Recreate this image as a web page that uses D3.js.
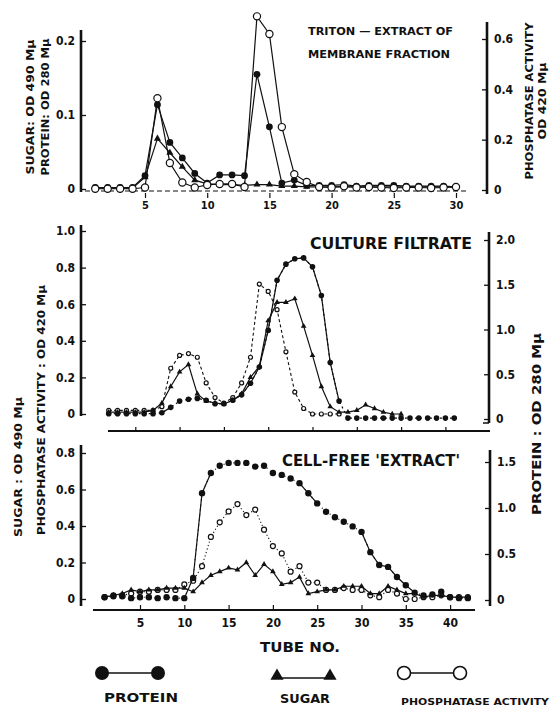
<!DOCTYPE html>
<html>
<head>
<meta charset="utf-8">
<script src="https://cdn.jsdelivr.net/npm/d3@7"></script>
<style>
  body { margin: 0; background: #fff; }
  text { font-family: 'DejaVu Sans Condensed', 'DejaVu Sans', sans-serif; font-weight: bold; fill: #111; }
</style>
</head>
<body>
<div id="graf"></div>
<script>
// ---- datos ----
// panel 1: triton extract of membrane fraction (tubos 1-30)
var tubos1 = [1,2,3,4,5,6,7,8,9,10,11,12,13,14,15,16,17,18,19,20,21,22,23,24,25,26,27,28,29,30]
var proteina1 = [0.002,0.002,0.002,0.002,0.018,0.114,0.063,0.042,0.021,0.008,0.019,0.019,0.018,0.155,0.084,0.008,0.012,0.005,0.005,0.005,0.006,0.004,0.005,0.005,0.005,0.004,0.004,0.004,0.004,0.003]
var azucar1 = [0.001,0.001,0.001,0.001,0.016,0.068,0.049,0.030,0.012,0.007,0.006,0.006,0.005,0.006,0.006,0.004,0.004,0.003,0.003,0.003,0.003,0.003,0.003,0.003,0.003,0.003,0.003,0.003,0.003,0.003]
var fosfatasa1 = [0.005,0.005,0.005,0.005,0.01,0.365,0.107,0.03,0.01,0.02,0.024,0.024,0.012,0.69,0.62,0.25,0.063,0.032,0.012,0.01,0.015,0.01,0.012,0.01,0.008,0.01,0.01,0.008,0.01,0.012]

// panel 2: culture filtrate (tubos 2-41)
var tubos2 = [2,3,4,5,6,7,8,9,10,11,12,13,14,15,16,17,18,19,20,21,22,23,24,25,26,27,28,29,30,31,32,33,34,35,36,37,38,39,40,41]
var proteina2 = [0.06,0.06,0.06,0.06,0.06,0.06,0.07,0.13,0.20,0.22,0.23,0.21,0.17,0.17,0.21,0.27,0.40,0.58,0.99,1.55,1.73,1.79,1.80,1.70,1.38,0.63,0.20,0.01,0.01,0.01,0.01,0.01,0.01,0.01,0.01,0.01,0.01,0.01,0.01,0.01]
var azucar2 = [0.01,0.01,0.01,0.01,0.01,0.02,0.06,0.15,0.23,0.27,0.11,0.07,0.06,0.055,0.075,0.11,0.20,0.26,0.51,0.61,0.61,0.63,0.48,0.32,0.15,0.04,0.01,0.01,0.02,0.05,0.03,0.01,0.0,0.0,null,null,null,null,null,null]
var fosfatasa2 = [0.02,0.02,0.02,0.02,0.02,0.02,0.04,0.25,0.32,0.33,0.31,0.17,0.09,0.06,0.09,0.17,0.31,0.71,0.67,0.57,0.34,0.12,0.03,0.0,0.0,0.0,0.0,null,null,null,null,null,null,null,null,null,null,null,null,null]

// panel 3: cell-free extract (tubos 1-42)
var tubos3 = [1,2,3,4,5,6,7,8,9,10,11,12,13,14,15,16,17,18,19,20,21,22,23,24,25,26,27,28,29,30,31,32,33,34,35,36,37,38,39,40,41,42]
var proteina3 = [0.03,0.04,0.04,0.02,0.03,0.03,0.02,0.03,0.02,0.02,0.24,1.16,1.38,1.46,1.49,1.49,1.49,1.45,1.46,1.38,1.36,1.32,1.27,1.16,1.05,0.96,0.90,0.85,0.80,0.74,0.52,0.38,0.36,0.25,0.16,0.08,0.05,0.06,0.09,0.03,0.02,0.02]
var azucar3 = [0.01,0.02,0.03,0.05,0.04,0.05,0.05,0.06,0.06,0.06,0.04,0.09,0.13,0.15,0.17,0.16,0.20,0.13,0.19,0.15,0.08,0.09,0.12,0.03,0.04,0.05,0.05,0.07,0.07,0.07,0.03,0.03,0.07,0.05,0.03,0.03,0.01,0.02,0.02,0.01,0.01,0.01]
var fosfatasa3 = [0.01,0.02,0.02,0.03,0.04,0.04,0.05,0.05,0.05,0.08,0.10,0.18,0.34,0.42,0.48,0.52,0.46,0.49,0.38,0.29,0.25,0.15,0.18,0.09,0.09,0.05,0.05,0.06,0.05,0.05,0.02,0.01,0.05,0.03,0.0,0.0,0.01,0.01,0.02,0.01,0.01,0.01]

// ticks
var ticksIzq1 = [0, 0.1, 0.2]
var ticksDer1 = [0, 0.2, 0.4, 0.6]
var ticksX1 = [5, 10, 15, 20, 25, 30]
var ticksIzq2 = [0, 0.2, 0.4, 0.6, 0.8, 1.0]
var ticksDer2 = [0, 0.5, 1.0, 1.5, 2.0]
var ticksX2 = [5, 10, 15, 20, 25, 30, 35, 40]
var ticksIzq3 = [0, 0.2, 0.4, 0.6, 0.8]
var ticksDer3 = [0, 0.5, 1.0, 1.5]
var ticksX3 = [5, 10, 15, 20, 25, 30, 35, 40]

var svg = d3.select('#graf').append('svg')
  .attr('width', 553).attr('height', 707)

var fmt = d => d === 0 ? '0' : d3.format('.1f')(d)

// escalas
var x1 = d3.scaleLinear().domain([5, 30]).range([145, 456])
var yIzq1 = d3.scaleLinear().domain([0, 0.2]).range([189, 41])
var yDer1 = d3.scaleLinear().domain([0, 0.6]).range([190, 39])

var x2 = d3.scaleLinear().domain([0, 45]).range([91, 489.7])
var yIzq2 = d3.scaleLinear().domain([0, 1]).range([414, 231])
var yDer2 = d3.scaleLinear().domain([0, 2]).range([419, 240])

var x3 = d3.scaleLinear().domain([0, 45]).range([95.7, 494.4])
var yIzq3 = d3.scaleLinear().domain([0, 0.8]).range([599, 453])
var yDer3 = d3.scaleLinear().domain([0, 1.5]).range([600, 462])

// lineas de ejes
function linea(x1_, y1_, x2_, y2_, ancho, dash) {
  svg.append('line')
    .attr('x1', x1_).attr('y1', y1_).attr('x2', x2_).attr('y2', y2_)
    .attr('stroke', '#111').attr('stroke-width', ancho)
    .attr('stroke-dasharray', dash || null)
}

function ejeIzq(y, ticks, xpos, size) {
  var g = svg.append('g').attr('transform', `translate(${xpos},0)`)
    .call(d3.axisLeft(y).tickValues(ticks).tickFormat(fmt).tickSizeInner(-5).tickSizeOuter(0).tickPadding(6))
  g.select('.domain').remove()
  g.selectAll('line').attr('stroke', '#111').attr('stroke-width', 1.3)
  g.selectAll('text').style('font-size', (size || 12) + 'px').style('font-family', null)
}
function ejeDer(y, ticks, xpos, size) {
  var g = svg.append('g').attr('transform', `translate(${xpos},0)`)
    .call(d3.axisRight(y).tickValues(ticks).tickFormat(fmt).tickSizeInner(-5).tickSizeOuter(0).tickPadding(7))
  g.select('.domain').remove()
  g.selectAll('line').attr('stroke', '#111').attr('stroke-width', 1.3)
  g.selectAll('text').style('font-size', (size || 12) + 'px').style('font-family', null)
}

// textos
function texto(str, x, y, largo, size, anchor) {
  svg.append('text').attr('x', x).attr('y', y)
    .attr('text-anchor', anchor || 'start')
    .attr('textLength', largo).attr('lengthAdjust', 'spacingAndGlyphs')
    .style('font-size', size + 'px')
    .text(str)
}
function textoVert(str, cx, cy, largo, size) {
  svg.append('text')
    .attr('transform', `translate(${cx},${cy}) rotate(-90)`)
    .attr('text-anchor', 'middle').attr('dominant-baseline', 'central')
    .attr('textLength', largo).attr('lengthAdjust', 'spacingAndGlyphs')
    .style('font-size', size + 'px')
    .text(str)
}

// series
function serie(tubos, valores, x, y, tipo, opts) {
  var datos = tubos.map((t, i) => ({ t: t, v: valores[i] }))
  var gen = d3.line().defined(d => d.v != null).x(d => x(d.t)).y(d => y(d.v))
  var g = svg.append('g')
  g.append('path').datum(datos)
    .attr('d', gen).attr('fill', 'none').attr('stroke', '#111')
    .attr('stroke-width', opts.ancho || 1.2)
    .attr('stroke-dasharray', opts.dash || null)
  if (opts.solidos) {
    opts.solidos.forEach(r => {
      g.append('path').datum(datos.filter(d => d.t >= r[0] && d.t <= r[1]))
        .attr('d', gen).attr('fill', 'none').attr('stroke', '#111')
        .attr('stroke-width', opts.ancho || 1.2)
    })
  }
  var pts = datos.filter(d => d.v != null)
  if (tipo === 'lleno') {
    g.selectAll('circle').data(pts).enter().append('circle')
      .attr('cx', d => x(d.t)).attr('cy', d => y(d.v)).attr('r', opts.r)
      .attr('fill', '#111')
  } else if (tipo === 'abierto') {
    g.selectAll('circle').data(pts).enter().append('circle')
      .attr('cx', d => x(d.t)).attr('cy', d => y(d.v)).attr('r', opts.r)
      .attr('fill', '#fff').attr('stroke', '#111').attr('stroke-width', 1.2)
  } else {
    g.selectAll('path.tri').data(pts).enter().append('path')
      .attr('class', 'tri')
      .attr('d', d3.symbol(d3.symbolTriangle, opts.r))
      .attr('transform', d => `translate(${x(d.t)},${y(d.v)})`)
      .attr('fill', '#111')
  }
}

// ===== panel 1 =====
linea(81, 30, 81, 192, 2.6)
linea(487, 22, 487, 194, 2.6)
linea(85, 191, 468, 191, 1.2, '5,3')
ejeIzq(yIzq1, ticksIzq1, 81, 12)
ejeDer(yDer1, ticksDer1, 487, 12)
var gx1 = svg.append('g').attr('transform', 'translate(0,193)')
  .call(d3.axisBottom(x1).tickValues(ticksX1).tickSizeInner(5).tickSizeOuter(0).tickPadding(3))
gx1.select('.domain').remove()
gx1.selectAll('line').attr('stroke', '#111').attr('stroke-width', 1.2)
gx1.selectAll('text').style('font-size', '11px').style('font-family', null)

serie(tubos1, azucar1, x1, yIzq1, 'tri', { r: 22 })
serie(tubos1, proteina1, x1, yIzq1, 'lleno', { r: 3.4 })
serie(tubos1, fosfatasa1, x1, yDer1, 'abierto', { r: 3.6 })

texto('TRITON — EXTRACT OF', 308, 35, 145, 10)
texto('MEMBRANE FRACTION', 308, 58, 142, 10)
textoVert('SUGAR: OD 490 Mμ', 30, 107, 135, 11)
textoVert('PROTEIN: OD 280 Mμ', 45, 107, 137, 11)
textoVert('PHOSPHATASE ACTIVITY', 529, 101, 157, 11)
textoVert('OD 420 Mμ', 542, 101, 77, 11)

// ===== panel 2 =====
linea(81, 225, 81, 416, 2.6)
linea(489, 232, 489, 423, 2.6)
linea(489, 423, 483, 423, 1.5)
linea(108, 431, 490, 431, 2)
var gx2 = svg.append('g').attr('transform', 'translate(0,431)')
  .call(d3.axisBottom(x2).tickValues(ticksX2).tickFormat('').tickSizeInner(-4).tickSizeOuter(0))
gx2.select('.domain').remove()
gx2.selectAll('line').attr('stroke', '#111').attr('stroke-width', 1.2)
ejeIzq(yIzq2, ticksIzq2, 81, 12)
ejeDer(yDer2, ticksDer2, 489, 12)

serie(tubos2, fosfatasa2, x2, yIzq2, 'abierto', { r: 2, dash: '3,2.5', ancho: 1.1 })
serie(tubos2, azucar2, x2, yIzq2, 'tri', { r: 14 })
serie(tubos2, proteina2, x2, yDer2, 'lleno', { r: 2.8, dash: '2,3', solidos: [[8, 9], [16, 28]] })

texto('CULTURE FILTRATE', 310, 249, 162, 15)

// ===== panel 3 =====
linea(81, 445, 81, 606, 2.6)
linea(490, 450, 490, 606, 2.6)
linea(93, 610, 475, 610, 2)
ejeIzq(yIzq3, ticksIzq3, 81, 12)
ejeDer(yDer3, ticksDer3, 490, 12)
var gx3 = svg.append('g').attr('transform', 'translate(0,610)')
  .call(d3.axisBottom(x3).tickValues(ticksX3).tickSizeInner(-5).tickSizeOuter(0).tickPadding(8))
gx3.select('.domain').remove()
gx3.selectAll('line').attr('stroke', '#111').attr('stroke-width', 1.2)
gx3.selectAll('text').style('font-size', '12px').style('font-family', null)

serie(tubos3, fosfatasa3, x3, yIzq3, 'abierto', { r: 2.5, dash: '1.2,2.4', ancho: 1.1 })
serie(tubos3, azucar3, x3, yIzq3, 'tri', { r: 14 })
serie(tubos3, proteina3, x3, yDer3, 'lleno', { r: 3.2, dash: '1,4', solidos: [[10, 13], [23, 25], [30, 36]] })

texto("CELL-FREE 'EXTRACT'", 282, 466, 178, 15)
texto('TUBE NO.', 300, 652, 80, 14, 'middle')
textoVert('SUGAR : OD 490 Mμ', 18, 467, 140, 11)
textoVert('PHOSPHATASE ACTIVITY : OD 420 Mμ', 41, 410, 250, 11)
textoVert('PROTEIN : OD 280 Mμ', 537, 424, 182, 12)

// ===== leyenda =====
var leyenda = svg.append('g')
leyenda.append('line').attr('x1', 102).attr('x2', 158).attr('y1', 673).attr('y2', 673).attr('stroke', '#111').attr('stroke-width', 1.5)
leyenda.selectAll('circle.p').data([102, 158]).enter().append('circle')
  .attr('cx', d => d).attr('cy', 673).attr('r', 7).attr('fill', '#111')
leyenda.append('line').attr('x1', 277).attr('x2', 330).attr('y1', 678).attr('y2', 678).attr('stroke', '#111').attr('stroke-width', 1.5)
leyenda.selectAll('path.s').data([277, 330]).enter().append('path')
  .attr('d', d3.symbol(d3.symbolTriangle, 75))
  .attr('transform', d => `translate(${d},676)`).attr('fill', '#111')
leyenda.append('line').attr('x1', 404).attr('x2', 460).attr('y1', 673).attr('y2', 673).attr('stroke', '#111').attr('stroke-width', 1.5)
leyenda.selectAll('circle.f').data([404, 460]).enter().append('circle')
  .attr('cx', d => d).attr('cy', 673).attr('r', 6.5).attr('fill', '#fff').attr('stroke', '#111').attr('stroke-width', 1.6)
texto('PROTEIN', 141, 702, 74, 12, 'middle')
texto('SUGAR', 305, 703, 50, 12, 'middle')
texto('PHOSPHATASE ACTIVITY', 475, 705, 148, 9, 'middle')
</script>
</body>
</html>
